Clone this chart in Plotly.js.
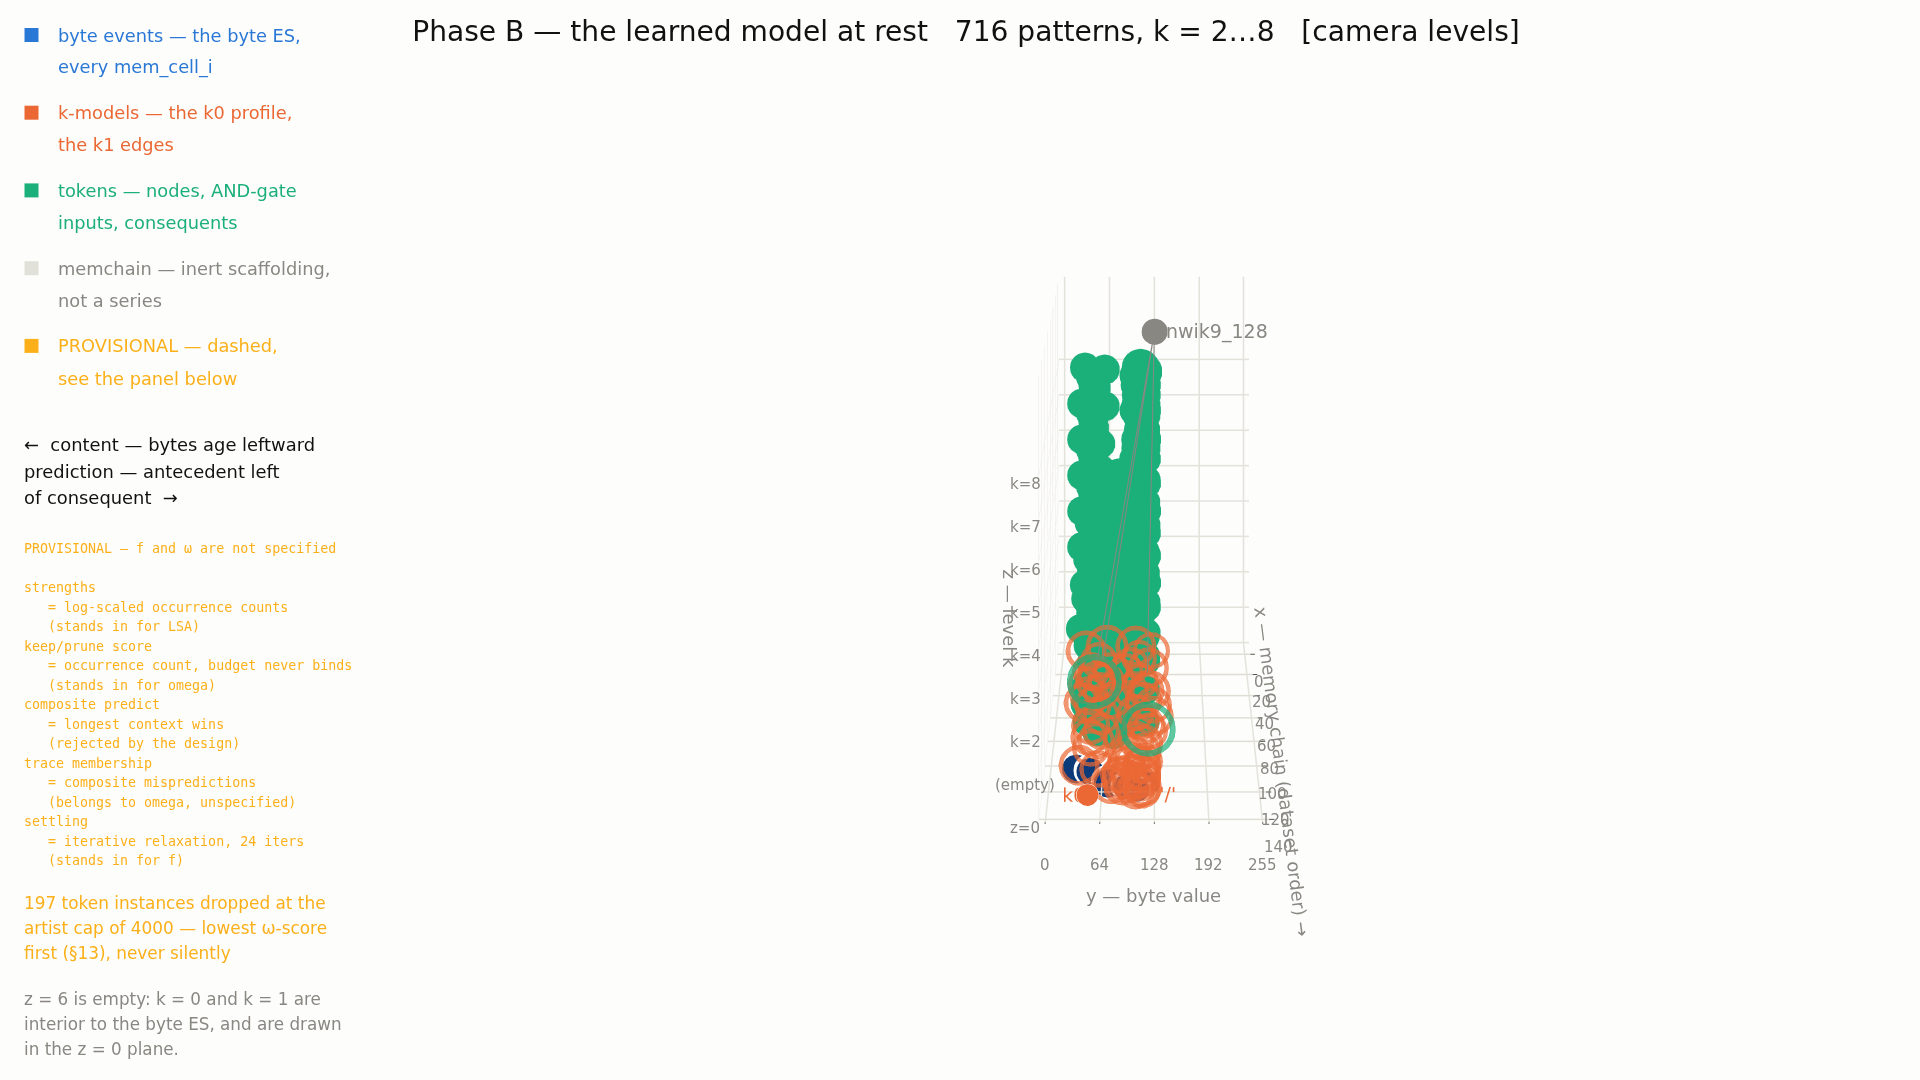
<!DOCTYPE html>
<html><head><meta charset="utf-8">
<script src="https://cdn.plot.ly/plotly-3.0.1.min.js"></script>
<style>html,body{margin:0;padding:0;background:#fdfdfb;overflow:hidden;width:1920px;height:1080px}#c{position:absolute;left:0;top:-1490px;width:2308px;height:2600px}</style>
</head><body><div id="c"></div>
<script>
// ---------- values ----------
const zTickVals=[0,6,12,18,24,30,36,42,48];
const zTickText=['z=0','(empty)','k=2','k=3','k=4','k=5','k=6','k=7','k=8'];
const xTickVals=[0,20,40,60,80,100,120,140];
const yTickVals=[0,64,128,192,255];
// tokens, one list per level (x = chain position, y = byte value)
const tokenLevels=[48,42,36,30,24,18,12];
const tokenXByLevel=[
 [0,3,14,24,30, 0,4,12,12,26,26,40,40,54,54,68,68,86,86,104,104],
 [0,4,14,24,34, 10,10,60,60,100],
 [0,6,14,24,34,40, 0,0,26,26,52,52,78,78,104,104,130,130, 44,60,60,76,92,92,108,124,124,140],
 [0,6,14,24,34,44,48, 10,10,60,60,110,110],
 [0,10,14,24,34,44,52,60, 0,0,26,26,52,52,78,78,104,104,130,130, 0,0,20,40,40,60,80,80,100,120,120,140],
 [0,10,14,24,34,50,56,70,84,100, 10,10,60,60,110,110],
 [2,12,24,36,48,48,64,80,96,100,120,138,116,130, 0,0,26,26,52,52,78,78,104,104,130,130, 0,0,20,40,40,60,80,80,100,120,120,140]
];
const tokenYByLevel=[
 [30,58,40,44,48, 107,114,100,116,102,116,104,116,104,116,106,116,108,116,110,116],
 [26,58,40,44,46, 100,116,104,116,108],
 [26,52,40,44,46,56, 102,116,100,116,102,116,104,116,100,116,106,116, 80,70,90,80,70,90,80,70,90,80],
 [26,52,40,44,46,58,40, 100,116,104,116,108,116],
 [26,48,38,44,46,58,40,60, 102,116,100,116,102,116,104,116,100,116,106,116, 70,90,80,70,90,80,70,90,80,70,90,80],
 [26,48,36,42,46,60,38,46,58,54, 100,116,104,116,108,116],
 [30,48,40,44,30,60,42,48,58,44,58,60,44,48, 102,116,100,116,102,116,104,116,100,116,106,116, 72,90,80,72,90,80,72,90,80,72,90,80]
];
// the larger tokens at the head of the byte column
const bigTokenX=[0,6];
const bigTokenY=[108,112];
const bigTokenZ=[48,48];
// large open token rings
const ringX=[26,69];
const ringY=[44,118];
const ringZ=[0,0];
const ringSize=[62,62];
// k-models: open rings on the floor
const kX=[-4,-9,-9,13,35,58,46,26,16,35,39.5,6,66,79,99,102,85,114,111, 3,16,26,35,44,55,66,78,81,88,96,99,104,105,110,112,115,118,116,107, 95.5,88,99,105,107,111,106,110,114,118,94,99, 18,26,30,48,58,76,71,44,16,11,-4,35,48,63,71];
const kY=[30,59,100,118,121,125,33,47,39,55,39,49,44,52,33,57,46,74,86, 105,87,108,95,112,102,116,103,114,97,114,91,108,112,95,110,88,104,112,83, 100,112,112,95,112,105,85,112,98,112,92,110, 46,61,34,45,57,43,58,69,67,94,122,115,125,109,120];
const kSize=[46,48,46,46,46,46,46,46,42,42,44,42,44,42,46,42,42,44,44, 40,40,40,40,42,42,42,42,42,42,42,44,44,42,44,44,44,44,44,42, 42,42,42,42,42,42,42,42,42,42,42,42, 42,42,42,42,42,42,42,42,42,42,42,42,42,42,42];
// k0 profile marker
const k0X=[122];
const k0Y=[47];
const k0Size=[26];
// byte events
const byteX=[102,104,113,116,113,118];
const byteY=[31,48,71,92,119,107];
const byteSize=[34,32,34,28,28,28];
// root + its links
const rootX=[65];
const rootY=[128];
const rootZ=[60.6];
const rootSize=[31];
const linkTargetsX=[78,78,90];
const linkTargetsY=[55,62,119];
const linkTargetsZ=[12,12,12];
// label anchors
const k0LabelY=[31];
const slashLabelY=[144];
// sidebar text
const legendText=[['byte events — the byte ES,','every mem_cell_i'],['k-models — the k0 profile,','the k1 edges'],['tokens — nodes, AND-gate','inputs, consequents'],['memchain — inert scaffolding,','not a series'],['PROVISIONAL — dashed,','see the panel below']];
const arrowText=['←  content — bytes age leftward','prediction — antecedent left','of consequent  →'];
const monoText=['PROVISIONAL — f and ω are not specified','','strengths','   = log-scaled occurrence counts','   (stands in for LSA)','keep/prune score','   = occurrence count, budget never binds','   (stands in for omega)','composite predict','   = longest context wins','   (rejected by the design)','trace membership','   = composite mispredictions','   (belongs to omega, unspecified)','settling','   = iterative relaxation, 24 iters','   (stands in for f)'];
const dropText=['197 token instances dropped at the','artist cap of 4000 — lowest ω-score','first (§13), never silently'];
const noteText=['z = 6 is empty: k = 0 and k = 1 are','interior to the byte ES, and are drawn','in the z = 0 plane.'];
// ---------- styles ----------
const W=2308,H=2600,TOP=1490;
const BLUE='#2a78d6',NAVY='#0d3a78',ORANGE='#eb6834',GREEN='#1baf7a',GRAYSQ='#e1e0d9',AMBER='#fbb01a',GRAY='#898781',GRID='#e3e2db';
const FONT='"DejaVu Sans", sans-serif';
const legendColors=[BLUE,ORANGE,GREEN,GRAY,AMBER];
const squareColors=[BLUE,ORANGE,GREEN,GRAYSQ,AMBER];
const legendY=[[35,67.3],[112.7,144.5],[190.4,222.9],[268.2,300],[345.9,378]];
const annotations=[],shapes=[];
function label(t,px,py,size,color,family){annotations.push({text:t.replace(/ /g,'\u00a0'),xref:'paper',yref:'paper',x:px/W,y:1-(py+TOP)/H,xanchor:'left',yanchor:'middle',showarrow:false,align:'left',font:{size:size,color:color,family:family||FONT}});}
legendText.forEach((pair,i)=>{pair.forEach((t,j)=>label(t,56,legendY[i][j],17.8,legendColors[i]));
 shapes.push({type:'rect',xref:'paper',yref:'paper',x0:24.5/W,x1:38.5/W,y0:1-(legendY[i][0]+7+TOP)/H,y1:1-(legendY[i][0]-7+TOP)/H,fillcolor:squareColors[i],line:{width:0}});});
arrowText.forEach((t,i)=>label(t,21.5,444.5+i*26.6,17.9,'#111111'));
monoText.forEach((t,i)=>{if(t)label(t,21.5,548.6+i*19.52,13.3,AMBER,'"DejaVu Sans Mono", monospace');});
dropText.forEach((t,i)=>label(t,21.5,902.5+i*25,16.9,AMBER));
noteText.forEach((t,i)=>label(t,21.5,999.2+i*25,16.8,GRAY));
// scene annotations: tick labels and axis titles
const sceneAnn=[];
const tickFont={size:15,color:GRAY,family:FONT},titleFont={size:18,color:GRAY,family:FONT},rootFont={size:19,color:GRAY,family:FONT};
function sa(x,y,z,t,dx,dy,font,angle){sceneAnn.push({x:x,y:y,z:z,text:t.replace(/ /g,'\u00a0'),showarrow:false,xanchor:'center',yanchor:'middle',xshift:dx,yshift:dy,font:font,textangle:angle||0});}
zTickVals.forEach((v,i)=>sa(142,-8,v,zTickText[i],-13,-6,tickFont));
yTickVals.forEach(v=>sa(142,v,0,String(v),0,-43,tickFont));
xTickVals.forEach(v=>sa(v,263,0,String(v),9,-28,tickFont));
sa(142,127.5,0,'y — byte value',0,-73,titleFont);
sa(142,-8,24,'z — level k',-28,31,titleFont,90);
sa(70,263,0,'x — memory chain (dataset order) →',23,-42,titleFont,82.7);
sa(rootX[0],rootY[0],rootZ[0],'nwik9_128',62.5,0,rootFont);
const tokenX=[...tokenXByLevel.flat(),...bigTokenX];
const tokenY=[...tokenYByLevel.flat(),...bigTokenY];
const tokenZ=[...tokenXByLevel.flatMap((r,i)=>r.map(()=>tokenLevels[i])),...bigTokenZ];
const tokenSize=[...tokenXByLevel.flat().map(()=>35),...bigTokenX.map(()=>44)];
const linkX=[],linkY=[],linkZ=[];
linkTargetsX.forEach((v,i)=>{linkX.push(rootX[0],v,null);linkY.push(rootY[0],linkTargetsY[i],null);linkZ.push(rootZ[0],linkTargetsZ[i],null);});
const traces=[
 {type:'scatter3d',mode:'markers',x:tokenX,y:tokenY,z:tokenZ,marker:{size:tokenSize,color:GREEN,opacity:1,line:{width:0}},hoverinfo:'skip'},
 {type:'scatter3d',mode:'markers',x:byteX.map(v=>v-1),y:byteY,z:byteX.map(()=>0),marker:{size:byteSize.map(v=>v+6),color:'#ffffff',opacity:1},hoverinfo:'skip'},
 {type:'scatter3d',mode:'markers',x:byteX,y:byteY,z:byteX.map(()=>0),marker:{size:byteSize,color:NAVY,opacity:1},hoverinfo:'skip'},
 {type:'scatter3d',mode:'text',x:k0X,y:k0LabelY,z:[0],text:['k0'],textposition:'middle center',textfont:{color:ORANGE,size:19,family:FONT},hoverinfo:'skip'},
 {type:'scatter3d',mode:'text',x:k0X,y:slashLabelY,z:[0],text:["'/'"],textposition:'middle center',textfont:{color:ORANGE,size:19,family:FONT},hoverinfo:'skip'},
 // second scene, same camera: drawn above the solid tokens
 {scene:'scene2',type:'scatter3d',mode:'lines',x:linkX,y:linkY,z:linkZ,line:{color:GRAY,width:2},hoverinfo:'skip'},
 {scene:'scene2',type:'scatter3d',mode:'markers',x:kX,y:kY,z:kX.map(()=>0),marker:{size:kSize,symbol:'circle-open',color:ORANGE,line:{color:ORANGE,width:0.8}},hoverinfo:'skip'},
 {scene:'scene2',type:'scatter3d',mode:'markers',x:ringX,y:ringY,z:ringZ,marker:{size:ringSize,symbol:'circle-open',color:GREEN,line:{color:GREEN,width:0.8}},hoverinfo:'skip'},
 {scene:'scene2',type:'scatter3d',mode:'markers',x:k0X,y:k0Y,z:[0],marker:{size:k0Size,color:ORANGE,opacity:1},hoverinfo:'skip'},
 {scene:'scene2',type:'scatter3d',mode:'markers',x:rootX,y:rootY,z:rootZ,marker:{size:rootSize,color:GRAY,opacity:1},hoverinfo:'skip'}
];
const axisBase={showbackground:false,gridcolor:GRID,gridwidth:3,zeroline:false,showline:false,ticks:'outside',ticklen:4,tickwidth:2,showticklabels:false,tickcolor:'#55554f',showspikes:false,title:{text:''}};
const camera={eye:{x:6.02,y:0.001,z:1.3675},center:{x:0,y:0,z:1.3675},up:{x:0,y:0,z:1}};
const ranges={x:[-12,142],y:[-8,263],z:[0,62]};
const hidden={visible:false,showgrid:false,zeroline:false,showticklabels:false,ticks:'',showspikes:false,title:{text:''}};
const layout={width:W,height:H,margin:{l:0,r:0,t:0,b:0},paper_bgcolor:'rgba(0,0,0,0)',showlegend:false,
 title:{text:'Phase B — the learned model at rest   716 patterns, k = 2…8   [camera levels]',x:966/W,xanchor:'center',y:1-(31+TOP)/H,yanchor:'middle',font:{size:28.1,color:'#111111',family:FONT}},
 annotations:annotations,shapes:shapes,
 scene:{domain:{x:[0,1],y:[0,1]},bgcolor:'rgba(0,0,0,0)',aspectmode:'manual',aspectratio:{x:1.172,y:0.4,z:0.77},camera:camera,
  annotations:sceneAnn,
  xaxis:Object.assign({},axisBase,{range:ranges.x,tickvals:xTickVals,gridcolor:'#dfded6'}),
  yaxis:Object.assign({},axisBase,{range:ranges.y,tickvals:yTickVals}),
  zaxis:Object.assign({},axisBase,{range:ranges.z,tickvals:zTickVals})
 },
 scene2:{domain:{x:[0,1],y:[0,1]},bgcolor:'rgba(0,0,0,0)',aspectmode:'manual',aspectratio:{x:1.172,y:0.4,z:0.77},camera:camera,
  xaxis:Object.assign({},hidden,{range:ranges.x}),
  yaxis:Object.assign({},hidden,{range:ranges.y}),
  zaxis:Object.assign({},hidden,{range:ranges.z})
 }};
Plotly.newPlot('c',traces,layout,{displayModeBar:false});
</script></body></html>
